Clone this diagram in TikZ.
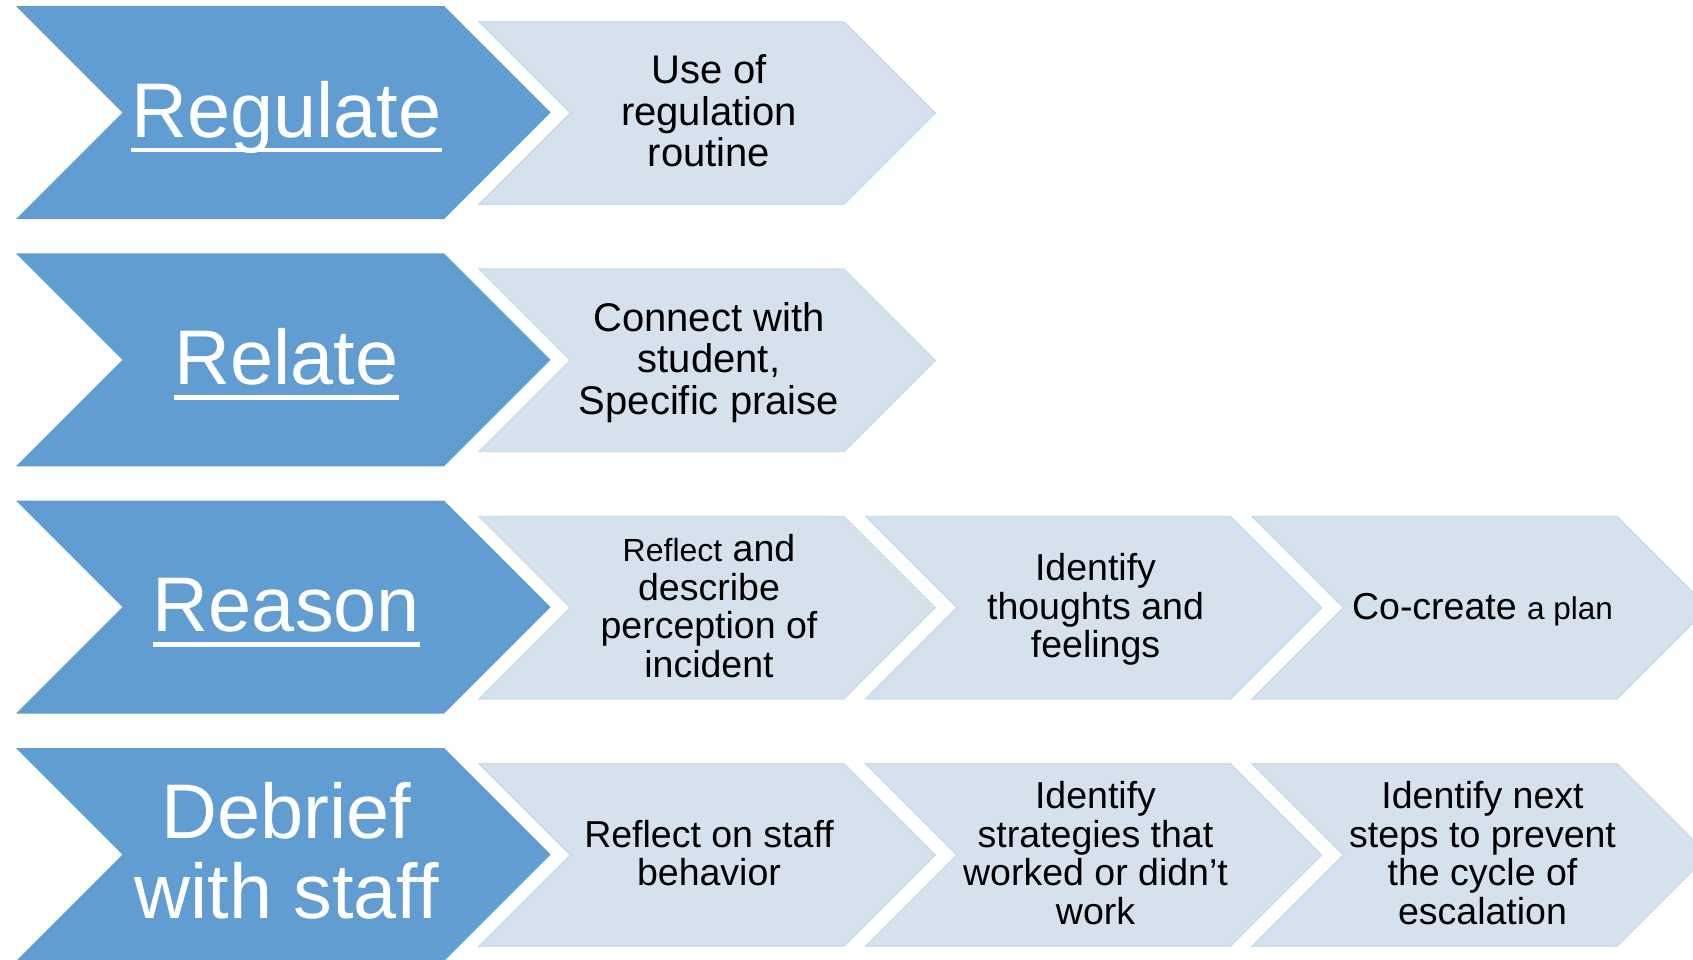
\documentclass[tikz,border=0pt]{standalone}
\usepackage{fontspec}
\setmainfont{Liberation Sans}
\definecolor{bigblue}{RGB}{98,157,209}
\definecolor{lightblue}{RGB}{214,225,238}
\definecolor{lightedge}{RGB}{205,218,235}
\tikzset{
  bigchev/.style={fill=bigblue, draw=none},
  lightchev/.style={fill=lightblue, draw=lightedge, line width=1.2pt, line join=miter},
  bigtxt/.style={text=white, inner sep=0pt, anchor=base, align=center,
    font=\fontsize{77.5}{80}\selectfont},
  lighttxt/.style={text=black, inner sep=0pt, anchor=base, align=center,
    font=\fontsize{40}{41.5}\selectfont},
  lighttxtb/.style={text=black, inner sep=0pt, anchor=base, align=center,
    font=\fontsize{37.5}{38.5}\selectfont},
  uline/.style={draw=white, line width=4.5pt}
}
\begin{document}
\begin{tikzpicture}[x=1pt,y=-1pt]
\useasboundingbox (0,0) rectangle (1693,959);
\clip (0,0) rectangle (1693,959);
\fill[white] (0,0) rectangle (1693,959);
% big chevrons
\foreach \r in {0,1,2,3}{
  \pgfmathsetmacro\T{6+247.33*\r}
  \path[bigchev] (16,\T) -- (444,\T) -- (550.5,\T+106.5) -- (444,\T+213) -- (16,\T+213) -- (122.5,\T+106.5) -- cycle;
}
% light chevrons
\foreach \r/\n in {0/0,1/0,2/2,3/2}{
  \foreach \j in {0,...,\n}{
    \pgfmathsetmacro\t{21.7+247.33*\r}
    \pgfmathsetmacro\L{479+386.5*\j}
    \path[lightchev] (\L,\t) -- (\L+365,\t) -- (\L+456.3,\t+91.3) -- (\L+365,\t+182.6) -- (\L,\t+182.6) -- (\L+91.3,\t+91.3) -- cycle;
  }
}
% big labels (base anchor = last line baseline)
\node[bigtxt] (regulate) at (286.5,137) {Regulate};
\node[bigtxt] (relate) at (286.5,384.3) {Relate};
\node[bigtxt] (reason) at (286.5,631.7) {Reason};
\node[bigtxt] (debrief) at (286.5,918) {Debrief\\with staff};
\draw[uline] ([yshift=-13pt]regulate.base west) -- ([yshift=-13pt]regulate.base east);
\draw[uline] ([yshift=-13pt]relate.base west) -- ([yshift=-13pt]relate.base east);
\draw[uline] ([yshift=-13pt]reason.base west) -- ([yshift=-13pt]reason.base east);
% light labels
\node[lighttxt] (use) at (709,166.8) {Use of\\regulation\\routine};
\node[lighttxt] (connect) at (709,414) {Connect with\\student,\\Specific praise};
\node[lighttxtb] (reflect) at (709,677) {{\fontsize{32}{38.5}\selectfont Reflect} and\\describe\\perception of\\incident};
\node[lighttxtb] (thoughts) at (1095.5,657.5) {Identify\\thoughts and\\feelings};
\node[lighttxtb] (cocreate) at (1482.5,619) {Co-create {\fontsize{31.5}{38.5}\selectfont a plan}};
\node[lighttxtb] (staffbeh) at (709,885.5) {Reflect on staff\\behavior};
\node[lighttxtb] (strategies) at (1095.5,924.3) {Identify\\strategies that\\worked or didn’t\\work};
\node[lighttxtb] (nextsteps) at (1482.5,924.3) {Identify next\\steps to prevent\\the cycle of\\escalation};
\end{tikzpicture}
\end{document}
